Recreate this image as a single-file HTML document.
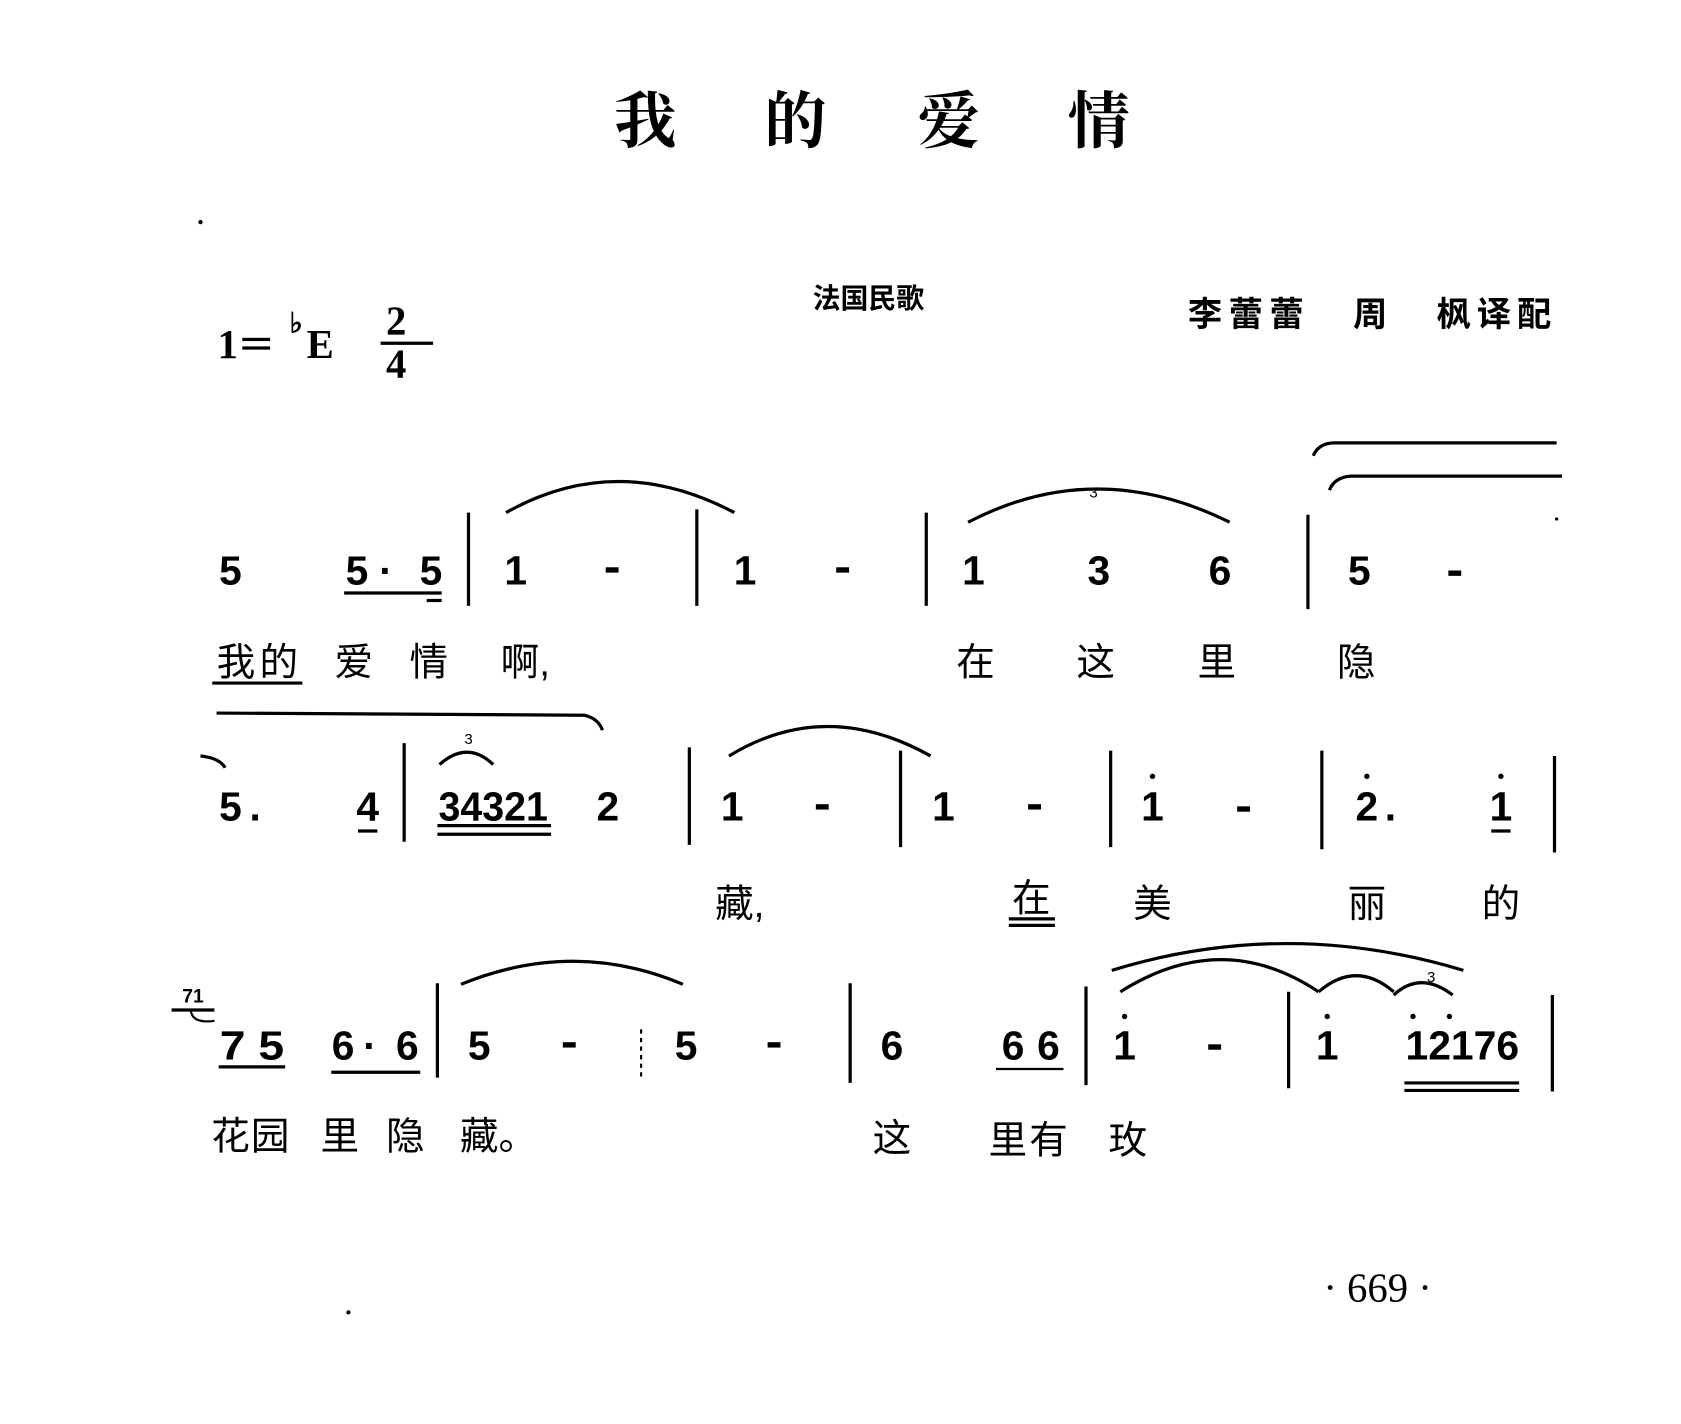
<!DOCTYPE html>
<html><head><meta charset="utf-8"><style>
html,body{margin:0;padding:0;background:#fff;}
svg{display:block;}
.n{font-family:"Liberation Sans",sans-serif;font-weight:bold;font-size:38px;text-anchor:middle;}
.c{font-family:"Liberation Sans","Noto Sans CJK SC",sans-serif;font-size:36px;text-anchor:middle;}
.s{fill:none;stroke:#000;stroke-width:3;}
.b{stroke:#000;stroke-width:3;}
</style></head><body>
<svg width="1681" height="1424" viewBox="0 0 1568 1328" xmlns="http://www.w3.org/2000/svg">
<rect width="1568" height="1328" fill="#fff"/>
<g font-family="'Liberation Serif','Noto Serif CJK SC',serif" font-size="58" font-weight="bold" text-anchor="middle">
<text x="602" y="133">我</text><text x="742" y="133">的</text><text x="885" y="133">爱</text><text x="1025" y="133">情</text>
</g>
<circle cx="187" cy="207" r="2" fill="#000"/>
<circle cx="325" cy="1224" r="2" fill="#000"/>
<text x="810" y="287" font-family="'Liberation Sans','Noto Sans CJK SC',sans-serif" font-size="26" font-weight="bold" text-anchor="middle">法国民歌</text>
<g font-family="'Liberation Sans','Noto Sans CJK SC',sans-serif" font-size="32" font-weight="bold">
<text x="1108" y="304" textLength="108" lengthAdjust="spacing">李蕾蕾</text>
<text x="1262" y="304">周</text>
<text x="1340" y="304" textLength="107" lengthAdjust="spacing">枫译配</text>
</g>
<g font-family="'Liberation Serif',serif" font-weight="bold" font-size="38">
<text x="203" y="334">1</text>
<rect x="226" y="315" width="26" height="3"/><rect x="226" y="323" width="26" height="3"/>
<text x="270" y="310" font-size="26">♭</text>
<text x="286" y="334">E</text>
<text x="360" y="312">2</text>
<line x1="355" y1="320" x2="404" y2="320" stroke="#000" stroke-width="3"/>
<text x="360" y="352">4</text>
</g>
<!-- dashes -->
<g fill="#000">
<rect x="565" y="529" width="12" height="5"/><rect x="780" y="529" width="12" height="5"/><rect x="1351" y="532" width="12" height="5"/>
<rect x="761" y="750" width="12" height="5"/><rect x="959" y="750" width="12" height="5"/><rect x="1154" y="752" width="12" height="5"/>
<rect x="525" y="972" width="12" height="5"/><rect x="716" y="972" width="12" height="5"/><rect x="1127" y="974" width="12" height="5"/>
</g>
<!-- row1 -->
<g class="n">
<text x="215" y="545">5</text><text x="333" y="545">5</text><text x="360" y="545">·</text><text x="402" y="545">5</text>
<text x="481" y="545">1</text>
<text x="695" y="545">1</text>
<text x="908" y="545">1</text><text x="1025" y="545">3</text><text x="1138" y="545">6</text>
<text x="1268" y="545">5</text>
</g>
<line x1="321" y1="553" x2="412" y2="553" class="b"/>
<line x1="398" y1="560" x2="412" y2="560" class="b"/>
<line x1="437" y1="478" x2="437" y2="565" class="b"/>
<line x1="650" y1="475" x2="650" y2="565" class="b"/>
<line x1="864" y1="478" x2="864" y2="565" class="b"/>
<line x1="1220" y1="480" x2="1220" y2="568" class="b"/>
<path class="s" d="M472 478 Q575 420 685 478"/>
<path class="s" d="M903 487 Q1022 425 1147 487"/>
<text x="1020" y="464" font-family="'Liberation Sans',sans-serif" font-size="14" text-anchor="middle">3</text>
<path class="s" d="M1225 425 Q1230 413 1245 413 L1452 413"/>
<path class="s" d="M1240 457 Q1245 445 1260 444 L1457 444"/>
<circle cx="1452" cy="484" r="1.5" fill="#000"/>
<g class="c">
<text x="220" y="630">我</text><text x="260" y="630">的</text><text x="330" y="630">爱</text><text x="400" y="630">情</text><text x="490" y="630">啊,</text>
<text x="910" y="630">在</text><text x="1022" y="630">这</text><text x="1135" y="630">里</text><text x="1265" y="630">隐</text>
</g>
<line x1="198" y1="637" x2="282" y2="637" class="b"/>
<!-- row2 -->
<path class="s" d="M202 665 L545 667 Q558 670 562 681"/>
<path class="s" d="M187 705 Q205 707 210 716"/>
<g class="n">
<text x="215" y="765">5</text><text x="238" y="765">.</text><text x="343" y="765">4</text>
<text x="460" y="765" textLength="102" lengthAdjust="spacingAndGlyphs">34321</text><text x="567" y="765">2</text>
<text x="683" y="765">1</text>
<text x="880" y="765">1</text>
<text x="1075" y="765">1</text>
<text x="1275" y="765">2</text><text x="1297" y="765">.</text><text x="1400" y="765">1</text>
</g>
<circle cx="1075" cy="724" r="2.5"/><circle cx="1275" cy="724" r="2.5"/><circle cx="1400" cy="724" r="2.5"/>
<line x1="334" y1="775" x2="352" y2="775" class="b"/>
<line x1="408" y1="770" x2="514" y2="770" class="b"/><line x1="408" y1="778" x2="514" y2="778" class="b"/>
<line x1="1391" y1="775" x2="1409" y2="775" class="b"/>
<line x1="377" y1="693" x2="377" y2="785" class="b"/>
<line x1="643" y1="697" x2="643" y2="788" class="b"/>
<line x1="840" y1="700" x2="840" y2="790" class="b"/>
<line x1="1036" y1="700" x2="1036" y2="790" class="b"/>
<line x1="1233" y1="700" x2="1233" y2="792" class="b"/>
<line x1="1450" y1="705" x2="1450" y2="795" class="b"/>
<path class="s" d="M680 705 Q770 650 868 705"/>
<path class="s" d="M410 713 Q436 690 460 713"/>
<text x="437" y="694" font-family="'Liberation Sans',sans-serif" font-size="14" text-anchor="middle">3</text>
<g class="c">
<text x="690" y="855">藏,</text><text x="962" y="850">在</text><text x="1075" y="855">美</text><text x="1275" y="855">丽</text><text x="1400" y="855">的</text>
</g>
<line x1="941" y1="857" x2="984" y2="857" class="b"/><line x1="941" y1="863" x2="984" y2="863" class="b"/>
<!-- row3 -->
<text x="180" y="935" font-family="'Liberation Sans',sans-serif" font-weight="bold" font-size="18" text-anchor="middle">71</text>
<line x1="160" y1="942" x2="200" y2="942" class="b"/>
<path class="s" d="M178 943 Q180 955 200 952" style="stroke-width:2"/>
<g class="n">
<text x="235" y="988" textLength="60" lengthAdjust="spacingAndGlyphs">7 5</text>
<text x="320" y="988">6</text><text x="345" y="988">·</text><text x="380" y="988">6</text>
<text x="447" y="988">5</text>
<text x="640" y="988">5</text>
<text x="832" y="988">6</text><text x="945" y="988">6</text><text x="978" y="988">6</text>
<text x="1049" y="988">1</text>
<text x="1238" y="988">1</text>
<text x="1364" y="988" textLength="106" lengthAdjust="spacingAndGlyphs">12176</text>
</g>
<circle cx="1049" cy="948" r="2.5"/><circle cx="1238" cy="948" r="2.5"/><circle cx="1318" cy="948" r="2.5"/><circle cx="1352" cy="948" r="2.5"/>
<line x1="204" y1="995" x2="266" y2="995" class="b"/>
<line x1="309" y1="1000" x2="392" y2="1000" class="b"/>
<line x1="929" y1="997" x2="992" y2="997" class="b" style="stroke-width:2"/>
<line x1="1310" y1="1010" x2="1417" y2="1010" class="b"/><line x1="1310" y1="1017" x2="1417" y2="1017" class="b"/>
<line x1="408" y1="917" x2="408" y2="1005" class="b"/>
<line x1="598" y1="960" x2="598" y2="1005" stroke="#000" stroke-width="2" stroke-dasharray="4,4"/>
<line x1="793" y1="917" x2="793" y2="1010" class="b"/>
<line x1="1013" y1="920" x2="1013" y2="1012" class="b"/>
<line x1="1202" y1="925" x2="1202" y2="1015" class="b"/>
<line x1="1448" y1="928" x2="1448" y2="1018" class="b"/>
<path class="s" d="M430 918 Q535 875 637 918"/>
<path class="s" d="M1037 905 Q1200 855 1365 905"/>
<path class="s" d="M1045 925 Q1140 865 1230 925"/>
<path class="s" d="M1230 925 Q1265 895 1300 925"/>
<path class="s" d="M1300 928 Q1325 905 1355 928"/>
<text x="1335" y="916" font-family="'Liberation Sans',sans-serif" font-size="14" text-anchor="middle">3</text>
<g class="c">
<text x="215" y="1072">花</text><text x="252" y="1072">园</text><text x="317" y="1072">里</text><text x="378" y="1072">隐</text><text x="465" y="1072">藏。</text>
<text x="832" y="1074">这</text><text x="940" y="1076">里</text><text x="978" y="1076">有</text><text x="1052" y="1076">玫</text>
</g>
<text x="1285" y="1214" font-family="'Liberation Serif',serif" font-size="38" text-anchor="middle">· 669 ·</text>
</svg>
</body></html>
